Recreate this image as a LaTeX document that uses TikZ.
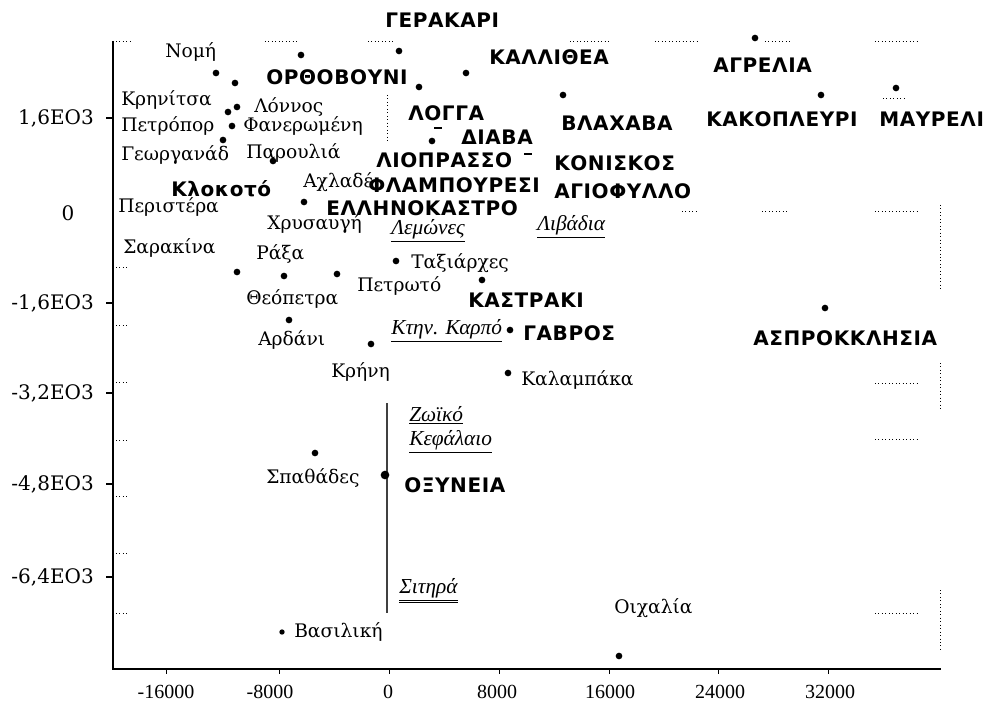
\documentclass[tikz,border=0pt]{standalone}
\usepackage{fontspec}
\newfontfamily\serfont{DejaVu Serif}
\newfontfamily\capfont[LetterSpace=3]{DejaVu Sans}
\newfontfamily\numfont{Liberation Serif}
\begin{document}
\begin{tikzpicture}[x=0.75pt,y=0.75pt,yscale=-1,xscale=1,
	lowlbl/.style={anchor=west,inner sep=0.75pt,font=\serfont\fontsize{14}{16}\selectfont},
	caplbl/.style={anchor=west,inner sep=0.75pt,font=\capfont\bfseries\fontsize{15}{17}\selectfont},
	itlbl/.style={anchor=west,inner sep=0.75pt,font=\numfont\itshape\fontsize{16}{18}\selectfont},
	ylbl/.style={anchor=east,inner sep=0.75pt,font=\serfont\fontsize{15}{17}\selectfont},
	xlbl/.style={anchor=center,inner sep=0.75pt,font=\numfont\fontsize{15}{17}\selectfont},
	spot/.style={circle,fill=black,inner sep=0pt,minimum size=5pt},
	gridbit/.style={line width=0.6pt,dotted},
	axisline/.style={line width=1.2pt}]
		\useasboundingbox (0,0) rectangle (984,709);
		
		%Axes
		\coordinate (ytop) at (113,41);
		\coordinate (orig) at (113,669);
		\coordinate (xend) at (941,669);
		\draw [axisline]  (ytop) -- (orig) -- (xend) ;
		%Ticks
		\draw [line width=1pt]  (106,118) -- (113,118) ;
		\draw [line width=1pt]  (106,303) -- (113,303) ;
		\draw [line width=1pt]  (106,393) -- (113,393) ;
		\draw [line width=1pt]  (106,484) -- (113,484) ;
		\draw [line width=1pt]  (106,577) -- (113,577) ;
		\draw    (166,669) -- (166,674) ;
		\draw    (279,669) -- (279,674) ;
		\draw    (389,669) -- (389,674) ;
		\draw    (499,669) -- (499,674) ;
		\draw    (609,669) -- (609,674) ;
		\draw    (718,669) -- (718,674) ;
		\draw    (828,669) -- (828,674) ;
		
		%Grid remnants (dotted)
		\draw [gridbit]  (116,41) -- (130,41) ;
		\draw [gridbit]  (265,41) -- (297,41) ;
		\draw [gridbit]  (368,41) -- (393,41) ;
		\draw [gridbit]  (570,41) -- (610,41) ;
		\draw [gridbit]  (655,41) -- (697,41) ;
		\draw [gridbit]  (765,41) -- (790,41) ;
		\draw [gridbit]  (875,41) -- (917,41) ;
		\draw [gridbit]  (883,98) -- (907,98) ;
		\draw [gridbit]  (682,211) -- (697,211) ;
		\draw [gridbit]  (762,211) -- (788,211) ;
		\draw [gridbit]  (875,211) -- (917,211) ;
		\draw [gridbit]  (875,383) -- (917,383) ;
		\draw [gridbit]  (875,439) -- (917,439) ;
		\draw [gridbit]  (875,613) -- (917,613) ;
		\draw [gridbit]  (116,267) -- (128,267) ;
		\draw [gridbit]  (116,325) -- (128,325) ;
		\draw [gridbit]  (116,382) -- (128,382) ;
		\draw [gridbit]  (116,440) -- (128,440) ;
		\draw [gridbit]  (116,496) -- (128,496) ;
		\draw [gridbit]  (116,553) -- (128,553) ;
		\draw [gridbit]  (116,613) -- (128,613) ;
		\draw [gridbit]  (940,205) -- (940,290) ;
		\draw [gridbit]  (940,363) -- (940,410) ;
		\draw [gridbit]  (940,590) -- (940,652) ;
		\draw [gridbit]  (387,95) -- (387,142) ;
		
		%Straight Lines (middle bar)
		\coordinate (bartop) at (387,403);
		\coordinate (barbot) at (387,613);
		\draw [line width=1pt,black!75]  (bartop) -- (barbot) ;
		
		% Tick labels
		\draw (95,118) node [ylbl] (ya) {1,6EO3};
		\draw (68,213) node [ylbl,anchor=center] (yb) {0};
		\draw (95,303) node [ylbl] (yc) {-1,6EO3};
		\draw (95,393) node [ylbl] (yd) {-3,2EO3};
		\draw (95,484) node [ylbl] (ye) {-4,8EO3};
		\draw (95,577) node [ylbl] (yf) {-6,4EO3};
		\draw (166,692) node [xlbl] (xa) {-16000};
		\draw (270,692) node [xlbl] (xb) {-8000};
		\draw (388,692) node [xlbl] (xc) {0};
		\draw (497,692) node [xlbl] (xd) {8000};
		\draw (610,692) node [xlbl] (xe) {16000};
		\draw (720,692) node [xlbl] (xf) {24000};
		\draw (830,692) node [xlbl] (xg) {32000};
		
		%Shape: Circle (points)
		\draw (216,73) node [spot] (p1) {};
		\draw (301,55) node [spot] (p2) {};
		\draw (235,83) node [spot] (p3) {};
		\draw (237,107) node [spot] (p4) {};
		\draw (228,112) node [spot] (p5) {};
		\draw (232,126) node [spot] (p6) {};
		\draw (223,140) node [spot] (p7) {};
		\draw (273,161) node [spot] (p8) {};
		\draw (304,202) node [spot] (p9) {};
		\draw (399,51) node [spot] (p10) {};
		\draw (466,73) node [spot] (p11) {};
		\draw (419,87) node [spot] (p12) {};
		\draw (563,95) node [spot] (p13) {};
		\draw (432,141) node [spot] (p14) {};
		\draw (755,38) node [spot] (p15) {};
		\draw (821,95) node [spot] (p16) {};
		\draw (896,88) node [spot] (p17) {};
		\draw (237,272) node [spot] (p18) {};
		\draw (284,276) node [spot] (p19) {};
		\draw (337,274) node [spot] (p20) {};
		\draw (396,261) node [spot] (p21) {};
		\draw (482,280) node [spot] (p22) {};
		\draw (289,320) node [spot] (p23) {};
		\draw (371,344) node [spot] (p24) {};
		\draw (510,330) node [spot] (p25) {};
		\draw (508,373) node [spot] (p26) {};
		\draw (825,308) node [spot] (p27) {};
		\draw (315,453) node [spot] (p28) {};
		\draw (385,475) node [spot,minimum size=6.5pt] (p29) {};
		\draw (282,632) node [spot,minimum size=4pt] (p30) {};
		\draw (619,656) node [spot] (p31) {};
		\draw [line width=1pt]  (434,128) -- (442,128) ;
		\draw [line width=1pt]  (524,154) -- (532,154) ;
		
		% Text Node (villages)
		\draw (164,52) node [lowlbl] (nomi) {Νομή};
		\draw (120,100) node [lowlbl] (krinitsa) {Κρηνίτσα};
		\draw (253,107) node [lowlbl] (lonnos) {Λόννος};
		\draw (120,126) node [lowlbl] (petropor) {Πετρόπορ};
		\draw (242,126) node [lowlbl] (faneromeni) {Φανερωμένη};
		\draw (120,155) node [lowlbl] (georganad) {Γεωργανάδ};
		\draw (245,153) node [lowlbl] (paroulia) {Παρουλιά};
		\draw (302,182) node [lowlbl] (achlade) {Αχλαδέ};
		\draw (117,207) node [lowlbl] (peristera) {Περιστέρα};
		\draw (266,224) node [lowlbl] (chrysavgi) {Χρυσαυγή};
		\draw (122,248) node [lowlbl] (sarakina) {Σαρακίνα};
		\draw (255,254) node [lowlbl] (raxa) {Ράξα};
		\draw (245,299) node [lowlbl] (theopetra) {Θεόπετρα};
		\draw (356,286) node [lowlbl] (petroto) {Πετρωτό};
		\draw (257,340) node [lowlbl] (ardani) {Αρδάνι};
		\draw (330,372) node [lowlbl] (kriniy) {Κρήνη};
		\draw (410,263) node [lowlbl] (taxiarches) {Ταξιάρχες};
		\draw (520,380) node [lowlbl] (kalampaka) {Καλαμπάκα};
		\draw (265,478) node [lowlbl] (spathades) {Σπαθάδες};
		\draw (293,632) node [lowlbl] (vasiliki) {Βασιλική};
		\draw (613,608) node [lowlbl] (oichalia) {Οιχαλία};
		
		% Text Node (capitals)
		\draw (384,20) node [caplbl] (gerakari) {ΓΕΡΑΚΑΡΙ};
		\draw (265,77) node [caplbl] (orthovouni) {ΟΡΘΟΒΟΥΝΙ};
		\draw (488,57) node [caplbl] (kallithea) {ΚΑΛΛΙΘΕΑ};
		\draw (407,113) node [caplbl] (logga) {ΛΟΓΓΑ};
		\draw (560,123) node [caplbl] (vlachava) {ΒΛΑΧΑΒΑ};
		\draw (460,137) node [caplbl] (diava) {ΔΙΑΒΑ};
		\draw (375,160) node [caplbl] (lioprasso) {ΛΙΟΠΡΑΣΣΟ};
		\draw (553,163) node [caplbl] (koniskos) {ΚΟΝΙΣΚΟΣ};
		\draw (170,189) node [caplbl] (klokoto) {Κλοκοτό};
		\draw (367,185) node [caplbl] (flampouresi) {ΦΛΑΜΠΟΥΡΕΣΙ};
		\draw (553,191) node [caplbl] (agiofyllo) {ΑΓΙΟΦΥΛΛΟ};
		\draw (325,208) node [caplbl] (ellinokastro) {ΕΛΛΗΝΟΚΑΣΤΡΟ};
		\draw (712,65) node [caplbl] (agrelia) {ΑΓΡΕΛΙΑ};
		\draw (705,119) node [caplbl] (kakopleyri) {ΚΑΚΟΠΛΕΥΡΙ};
		\draw (878,119) node [caplbl] (mavreli) {ΜΑΥΡΕΛΙ};
		\draw (467,300) node [caplbl] (kastraki) {ΚΑΣΤΡΑΚΙ};
		\draw (522,333) node [caplbl] (gavros) {ΓΑΒΡΟΣ};
		\draw (752,338) node [caplbl] (asprokklisia) {ΑΣΠΡΟΚΚΛΗΣΙΑ};
		\draw (403,485) node [caplbl] (oxyneia) {ΟΞΥΝΕΙΑ};
		
		% Text Node (underlined)
		\draw (390,231) node [itlbl] (lemones) {\underline{Λεμώνες}};
		\draw (536,227) node [itlbl] (livadia) {\underline{Λιβάδια}};
		\draw (390,331) node [itlbl] (ktinkarpo) {\underline{Κτην. Καρπό}};
		\draw (408,415) node [itlbl] (zoiko) {\underline{Ζωϊκό}};
		\draw (408,442) node [itlbl] (kefalaio) {\underline{Κεφάλαιο}};
		\draw (398,591) node [itlbl] (sitira) {\underline{\underline{Σιτηρά}}};
\end{tikzpicture}
\end{document}
